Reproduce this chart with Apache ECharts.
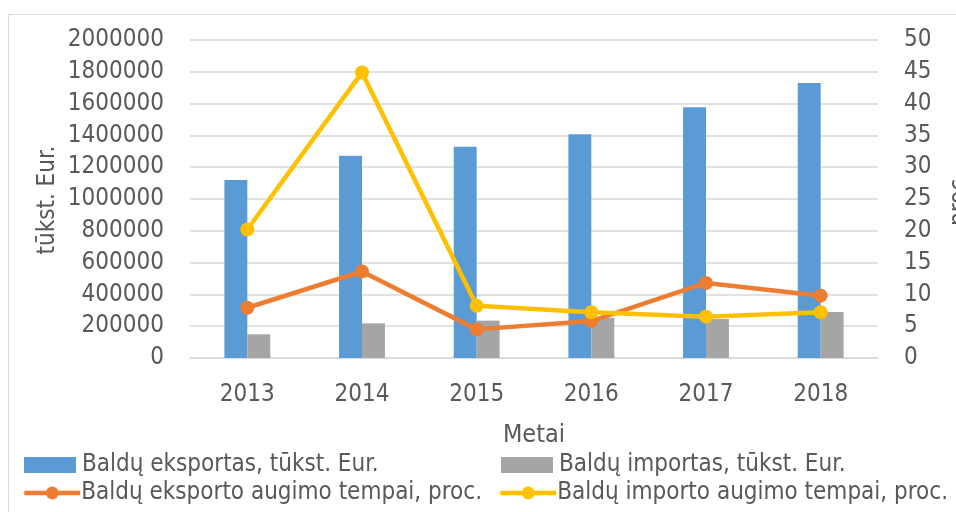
<!DOCTYPE html>
<html><head><meta charset="utf-8">
<script src="https://cdn.jsdelivr.net/npm/echarts@6/dist/echarts.min.js"></script>
<style>html,body{margin:0;padding:0;background:#fff}#c{width:956px;height:512px}</style>
</head><body><div id="c"></div>
<script>
var years = ['2013','2014','2015','2016','2017','2018'];
var exportValues = [1120000, 1272000, 1328000, 1408000, 1577000, 1730000];
var importValues = [149000, 218000, 235000, 253000, 245000, 289000];
var exportGrowth = [7.9, 13.6, 4.5, 5.8, 11.8, 9.8];
var importGrowth = [20.2, 44.9, 8.2, 7.2, 6.5, 7.2];
var leftTicks = {min: 0, max: 2000000, interval: 200000};
var rightTicks = {min: 0, max: 50, interval: 5};
var leftAxisTitle = 'tūkst. Eur.';
var names = ['Baldų eksportas, tūkst. Eur.', 'Baldų importas, tūkst. Eur.', 'Baldų eksporto augimo tempai, proc.', 'Baldų importo augimo tempai, proc.'];

var FONT = '"DejaVu Sans Condensed", "Liberation Sans Narrow", "Open Sans", sans-serif';
var TXT = '#595959';
var chart = echarts.init(document.getElementById('c'));
function leg(name, left, top, w, h, icon, pad) {
  var item = {name: name};
  if (icon) item.icon = icon;
  return {data: [item], left: left, top: top, itemWidth: w, itemHeight: h, itemGap: 0,
    textStyle: {fontFamily: FONT, fontSize: 24, color: TXT, padding: [0,0,0,pad]}, padding: 0, selectedMode: false,
    lineStyle: {width: 4.5}};
}
chart.setOption({
  animation: false,
  textStyle: {fontFamily: FONT},
  graphic: [
    {type: 'rect', shape: {x: 8.5, y: 14.5, width: 1000, height: 600}, style: {fill: 'none', stroke: '#d9d9d9', lineWidth: 1}, silent: true},
    {type: 'text', x: 48, y: 200, rotation: Math.PI / 2, silent: true,
      style: {text: leftAxisTitle, font: '24px ' + FONT, fill: TXT, textAlign: 'center', textVerticalAlign: 'middle'}}
  ],
  grid: {left: 190, right: 78, top: 40, bottom: 154, outerBoundsMode: 'none', containLabel: false},
  legend: [
    leg(names[0], 24, 453, 52, 16, 'rect', 1),
    leg(names[1], 501, 453, 52, 16, 'rect', 1),
    leg(names[2], 22, 481, 56, 16, null, -4),
    leg(names[3], 498, 481, 56, 16, null, -4)
  ],
  xAxis: {type: 'category', data: years, name: 'Metai', nameLocation: 'middle', nameGap: 65,
    nameTextStyle: {fontFamily: FONT, fontSize: 25, color: TXT},
    axisLine: {lineStyle: {color: '#d9d9d9', width: 1.5}}, axisTick: {show: false},
    axisLabel: {fontFamily: FONT, fontSize: 24, color: TXT, margin: 25}},
  yAxis: [
    {type: 'value', min: leftTicks.min, max: leftTicks.max, interval: leftTicks.interval,
      axisLine: {show: false}, axisTick: {show: false},
      splitLine: {lineStyle: {color: '#d9d9d9', width: 1.5}},
      axisLabel: {fontFamily: FONT, fontSize: 24, color: TXT, margin: 26, formatter: function (v) { return String(v); }}},
    {type: 'value', min: rightTicks.min, max: rightTicks.max, interval: rightTicks.interval,
      name: 'proc.', nameLocation: 'middle', nameGap: 70, nameRotate: 90,
      nameTextStyle: {fontFamily: FONT, fontSize: 24, color: TXT},
      axisLine: {show: false}, axisTick: {show: false}, splitLine: {show: false},
      axisLabel: {fontFamily: FONT, fontSize: 24, color: TXT, margin: 26, formatter: function (v) { return String(v); }}}
  ],
  series: [
    {name: names[0], type: 'bar', data: exportValues, barWidth: '20%', barGap: '0%', itemStyle: {color: '#5b9bd5'}},
    {name: names[1], type: 'bar', data: importValues, barWidth: '20%', barGap: '0%', itemStyle: {color: '#a5a5a5'}},
    {name: names[2], type: 'line', yAxisIndex: 1, data: exportGrowth, symbol: 'circle', symbolSize: 14,
      lineStyle: {color: '#ed7d31', width: 4.5}, itemStyle: {color: '#ed7d31'}},
    {name: names[3], type: 'line', yAxisIndex: 1, data: importGrowth, symbol: 'circle', symbolSize: 14,
      lineStyle: {color: '#ffc000', width: 4.5}, itemStyle: {color: '#ffc000'}}
  ]
});
</script></body></html>
